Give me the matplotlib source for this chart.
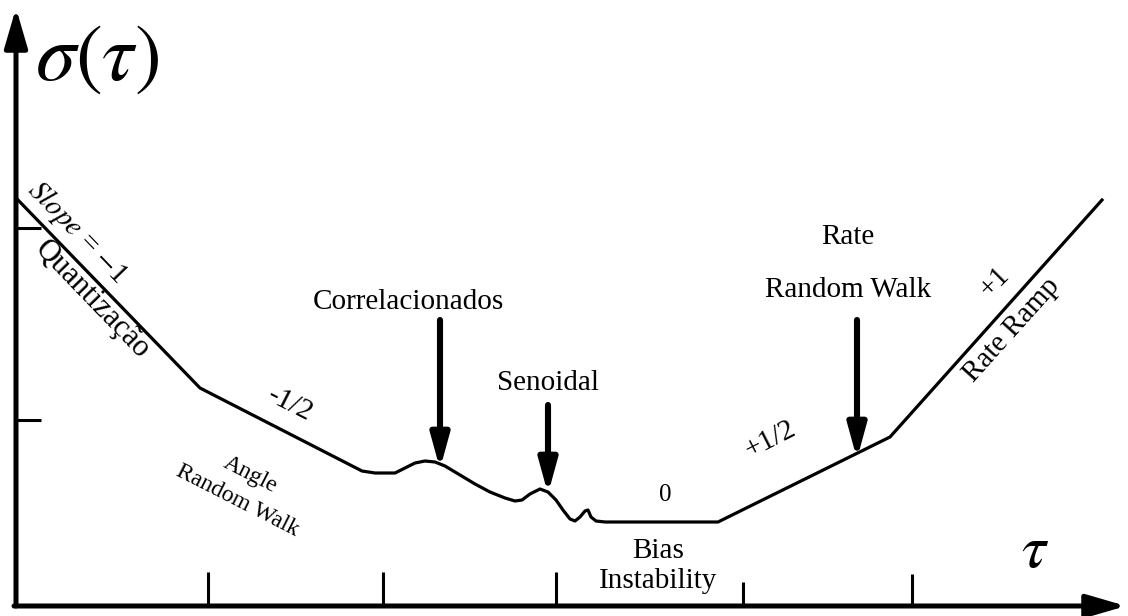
import matplotlib.pyplot as plt

plt.rcParams['font.family'] = ['Liberation Serif', 'DejaVu Serif']
plt.rcParams['mathtext.fontset'] = 'stix'

# curve of sigma(tau), drawn on a canvas with y growing downwards
curve_x = [18, 200, 362, 375, 395, 405, 415, 425, 435, 445, 460, 475, 490, 505,
           515, 522, 530, 540, 548, 556, 563, 570, 575, 580, 585, 588, 591, 596,
           605, 718, 890, 1102]
curve_y = [200, 388, 471, 473, 473, 468, 463, 461, 462, 466, 475, 484, 492, 498,
           501, 500, 494, 489, 492, 500, 510, 519, 521, 517, 511, 510, 517, 521,
           522, 522, 437, 200]

x_ticks = [208, 383, 556, 743, 912]
x_tick_tops = [572, 572, 572, 582, 574]
y_ticks = [228, 420]

# pointer arrows: (x, start y, tip y)
pointers = [(440, 320, 462), (548, 405, 487), (857, 320, 452)]

fig = plt.figure(figsize=(11.28, 6.16), dpi=100)
ax = fig.add_axes([0, 0, 1, 1])
ax.set_xlim(0, 1128)
ax.set_ylim(616, 0)
ax.axis('off')

# axes with arrow heads
ax.annotate('', xy=(16, 8), xytext=(16, 606),
            arrowprops=dict(arrowstyle='-|>,head_length=2.4,head_width=0.7',
                            lw=3.6, color='k', shrinkA=0, shrinkB=0))
ax.annotate('', xy=(1126, 606), xytext=(14, 606),
            arrowprops=dict(arrowstyle='-|>,head_length=2.4,head_width=0.7',
                            lw=3.6, color='k', shrinkA=0, shrinkB=0))
for tx, top in zip(x_ticks, x_tick_tops):
    ax.plot([tx, tx], [top, 606], color='k', lw=2.2, solid_capstyle='butt')
for ty in y_ticks:
    ax.plot([16, 41], [ty, ty], color='k', lw=2.2, solid_capstyle='butt')

ax.plot(curve_x, curve_y, color='k', lw=2.3, solid_joinstyle='round')

# the filled head stops a little short of xy, so push the target down a bit
for px, y0, y1 in pointers:
    ax.annotate('', xy=(px, y1 + 7), xytext=(px, y0),
                arrowprops=dict(arrowstyle='-|>,head_length=2.0,head_width=0.55',
                                lw=4.4, color='k', shrinkA=0, shrinkB=0))

fs = 21
ax.text(97, 60, r'$\sigma(\tau)$', fontsize=58, ha='center', va='center')
ax.text(1035, 552, r'$\tau$', fontsize=44, ha='center', va='center')
ax.text(78, 232, r'$\mathit{Slope}$ = $-$1', fontsize=fs, rotation=-46,
        ha='center', va='center', rotation_mode='anchor')
ax.text(92, 300, 'Quantização', fontsize=22, rotation=-46,
        ha='center', va='center', rotation_mode='anchor')
ax.text(290, 404, '-1/2', fontsize=fs, rotation=-27,
        ha='center', va='center', rotation_mode='anchor')
ax.text(244, 488, 'Angle\nRandom Walk', fontsize=17, rotation=-27,
        ha='center', va='center', rotation_mode='anchor', linespacing=1.5)
ax.text(408, 302, 'Correlacionados', fontsize=fs, ha='center', va='center')
ax.text(548, 383, 'Senoidal', fontsize=fs, ha='center', va='center')
ax.text(665, 495, '0', fontsize=18, ha='center', va='center')
ax.text(658, 566, 'Bias\nInstability', fontsize=fs, ha='center', va='center',
        linespacing=1.2)
ax.text(770, 440, '+1/2', fontsize=fs, rotation=27,
        ha='center', va='center', rotation_mode='anchor')
ax.text(848, 237, 'Rate', fontsize=fs, ha='center', va='center')
ax.text(848, 290, 'Random Walk', fontsize=fs, ha='center', va='center')
ax.text(995, 282, '+1', fontsize=fs, rotation=45,
        ha='center', va='center', rotation_mode='anchor')
ax.text(1012, 330, 'Rate Ramp', fontsize=fs, rotation=48,
        ha='center', va='center', rotation_mode='anchor')

fig.savefig('out.png', dpi=100)
